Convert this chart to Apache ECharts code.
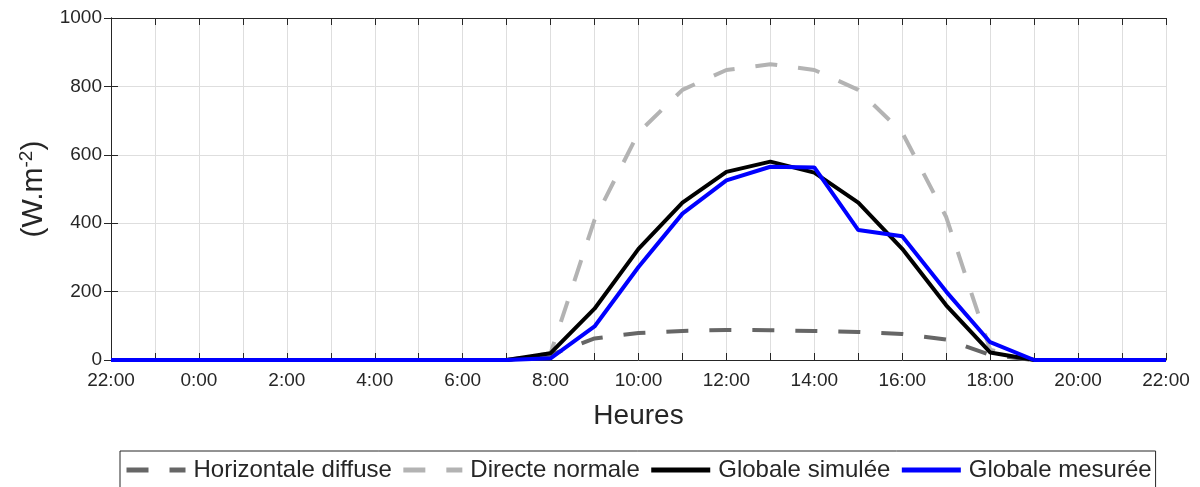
<!DOCTYPE html>
<html>
<head>
<meta charset="utf-8">
<script src="https://cdn.jsdelivr.net/npm/echarts@6/dist/echarts.min.js"></script>
<style>
html,body{margin:0;padding:0;background:#fff;}
#chart{width:1200px;height:487px;}
</style>
</head>
<body>
<div id="chart"></div>
<script>
// Hour labels from 22:00 to 22:00 (hourly)
const hours = ['22:00','23:00','0:00','1:00','2:00','3:00','4:00','5:00','6:00','7:00','8:00','9:00','10:00','11:00','12:00','13:00','14:00','15:00','16:00','17:00','18:00','19:00','20:00','21:00','22:00'];
const yTicks = [0, 200, 400, 600, 800, 1000];
const seriesNames = ['Horizontale diffuse', 'Directe normale', 'Globale simulée', 'Globale mesurée'];
const horizontaleDiffuse = [0,0,0,0,0,0,0,0,0,0, 15, 63, 79, 85, 88, 87, 85, 82, 76, 60, 15, 0,0,0,0];
const directeNormale     = [0,0,0,0,0,0,0,0,0,0, 20, 410, 665, 790, 848, 865, 848, 790, 665, 418, 30, 0,0,0,0];
const globaleSimulee     = [0,0,0,0,0,0,0,0,0,0, 20, 150, 325, 460, 550, 580, 548, 460, 325, 160, 22, 0,0,0,0];
const globaleMesuree     = [0,0,0,0,0,0,0,0,0,0, 5, 98, 272, 428, 525, 565, 563, 380, 362, 200, 52, 0,0,0,0];

const toPairs = arr => arr.map((v, i) => [i, v]);
const txt = '#262626';
const axisCol = '#262626';
const gridCol = '#dedede';
const font = 'Liberation Sans, Arial, Helvetica, sans-serif';

const chart = echarts.init(document.getElementById('chart'), null, {renderer: 'canvas'});
const baseX = {
  type: 'value', min: 0, max: hours.length - 1, interval: 1,
  axisLine: {show: true, onZero: false, lineStyle: {color: axisCol, width: 1}},
  axisTick: {show: true, inside: true, length: 7, lineStyle: {color: axisCol}},
};
const baseY = {
  type: 'value', min: yTicks[0], max: yTicks[yTicks.length - 1], interval: yTicks[1] - yTicks[0],
  axisLine: {show: true, lineStyle: {color: axisCol, width: 1}},
  axisTick: {show: true, inside: true, length: 7, lineStyle: {color: axisCol}},
};
chart.setOption({
  animation: false,
  textStyle: {fontFamily: font},
  grid: {left: 111, right: 34, top: 18, bottom: 127, containLabel: false},
  xAxis: [
    Object.assign({}, baseX, {
      position: 'bottom',
      name: 'Heures', nameLocation: 'middle', nameGap: 42,
      nameTextStyle: {fontSize: 28, color: txt, fontFamily: font},
      axisLabel: {
        show: true, margin: 11, fontSize: 19, color: txt, fontFamily: font,
        formatter: v => (v % 2 === 0 ? hours[v] : '')
      },
      splitLine: {show: true, lineStyle: {color: gridCol, width: 1}}
    }),
    Object.assign({}, baseX, {
      position: 'top', axisLabel: {show: false}, splitLine: {show: false}
    })
  ],
  yAxis: [
    Object.assign({}, baseY, {
      position: 'left',
      name: '(W.m{sup|-2})', nameLocation: 'middle', nameGap: 55, nameRotate: 90,
      nameTextStyle: {
        fontSize: 30, color: txt, fontFamily: font,
        rich: {sup: {fontSize: 19, verticalAlign: 'top', color: txt, fontFamily: font, padding: [0, 0, 14, 0]}}
      },
      axisLabel: {show: true, margin: 9, fontSize: 19, color: txt, fontFamily: font,
        formatter: v => String(v)},
      splitLine: {show: true, lineStyle: {color: gridCol, width: 1}}
    }),
    Object.assign({}, baseY, {
      position: 'right', axisLabel: {show: false}, splitLine: {show: false}
    })
  ],
  legend: {
    left: 120, top: 451,
    padding: [7, 4, 14, 4],
    borderColor: '#262626', borderWidth: 1,
    itemWidth: 59, itemHeight: 14, itemGap: 9,
    itemStyle: {opacity: 0},
    lineStyle: {width: 5},
    textStyle: {fontSize: 24, color: txt, fontFamily: font, padding: [0, 0, 0, 3]},
    data: seriesNames
  },
  series: [
    {name: seriesNames[0], type: 'line', data: toPairs(horizontaleDiffuse), symbol: 'none',
     lineStyle: {color: '#666666', width: 4, type: [22, 21]}, itemStyle: {color: '#666666'}},
    {name: seriesNames[1], type: 'line', data: toPairs(directeNormale), symbol: 'none',
     lineStyle: {color: '#b3b3b3', width: 4, type: [22, 21]}, itemStyle: {color: '#b3b3b3'}},
    {name: seriesNames[2], type: 'line', data: toPairs(globaleSimulee), symbol: 'none',
     lineStyle: {color: '#000000', width: 4}, itemStyle: {color: '#000000'}},
    {name: seriesNames[3], type: 'line', data: toPairs(globaleMesuree), symbol: 'none',
     lineStyle: {color: '#0000ff', width: 4}, itemStyle: {color: '#0000ff'}}
  ]
});
</script>
</body>
</html>
